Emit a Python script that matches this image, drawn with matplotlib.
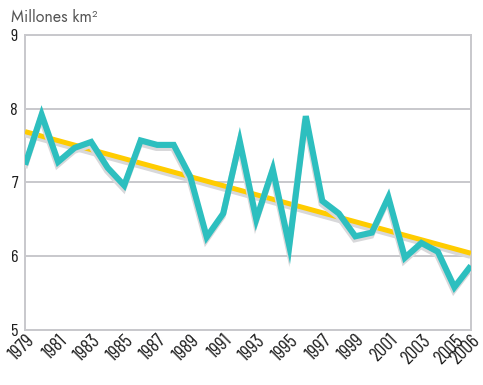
import matplotlib
matplotlib.use('Agg')
import matplotlib.pyplot as plt
import matplotlib.patheffects as pe

# ---- data ----
years = list(range(1979, 2007))
extent = [7.24, 7.92, 7.28, 7.47, 7.55, 7.20, 6.96, 7.57, 7.51, 7.51,
          7.08, 6.26, 6.58, 7.56, 6.50, 7.18, 6.14, 7.90, 6.75, 6.58,
          6.27, 6.32, 6.80, 5.98, 6.18, 6.06, 5.58, 5.87]
trend_years = [1979, 2006]
trend_vals = [7.69, 6.04]
tick_years = list(range(1979, 2006, 2)) + [2006]
y_ticks = [5, 6, 7, 8, 9]

TEAL = '#2dbfbf'
YELLOW = '#ffcc00'
GRID = '#c8c8cc'
TICK_FONT = ['Barlow Condensed', 'DejaVu Sans']

plt.rcParams['font.family'] = TICK_FONT

fig = plt.figure(figsize=(4.83, 3.85), dpi=100)
ax = fig.add_axes([0.052, 0.143, 0.923, 0.766])

shadow = [pe.SimpleLineShadow(offset=(-0.5, -2.2), shadow_color='#d8d8da', alpha=1.0), pe.Normal()]

ax.plot(trend_years, trend_vals, color=YELLOW, lw=3.6, solid_capstyle='butt',
        path_effects=shadow, zorder=3)
ax.plot(years, extent, color=TEAL, lw=4.4, solid_joinstyle='miter',
        solid_capstyle='butt', path_effects=shadow, zorder=4)

ax.set_xlim(1979, 2006)
ax.set_ylim(5, 9)
ax.set_yticks(y_ticks)
ax.set_xticks(tick_years)
ax.set_xticklabels([str(y) for y in tick_years], rotation=45, ha='right', va='top',
                   rotation_mode='anchor', fontsize=14, color='#1e1e1e')
ax.set_yticklabels([str(v) for v in y_ticks], fontsize=13, color='#1e1e1e')
ax.tick_params(length=0)
ax.tick_params(axis='y', pad=5)
ax.tick_params(axis='x', pad=1)

ax.grid(axis='y', color=GRID, lw=1.4, zorder=1)
ax.set_axisbelow(True)
for s in ax.spines.values():
    s.set_color(GRID)
    s.set_linewidth(1.4)

fig.text(0.022, 0.955, 'Millones km²', fontsize=11.5, color='#555555', va='center', ha='left',
         family=['Jost', 'DejaVu Sans'])

fig.savefig('out.png', dpi=100)
